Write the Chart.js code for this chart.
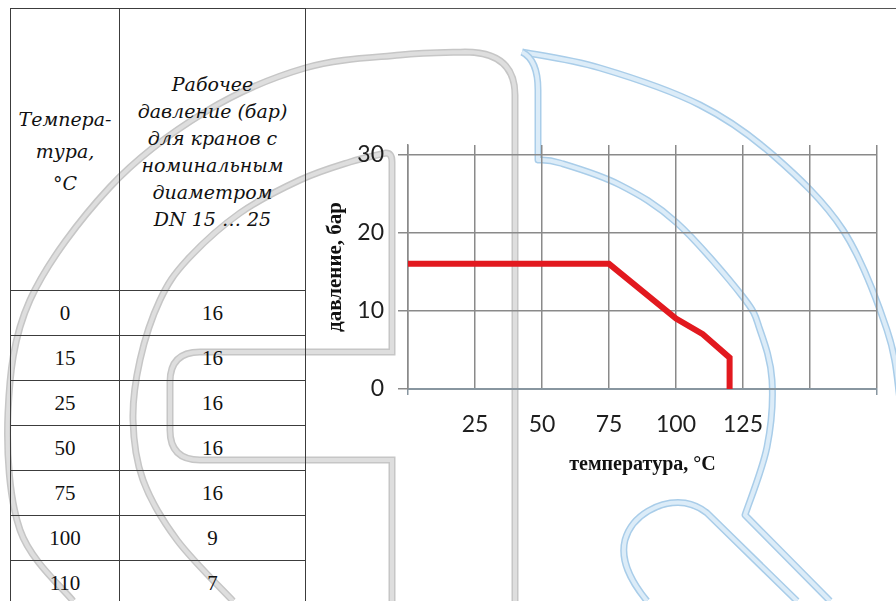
<!DOCTYPE html>
<html>
<head>
<meta charset="utf-8">
<script src="https://cdn.jsdelivr.net/npm/chart.js@4.4.1/dist/chart.umd.min.js"></script>
<style>
html, body { margin: 0; padding: 0; background: #fff; }
#wrap { position: relative; width: 896px; height: 601px; overflow: hidden; }
#mark { position: absolute; left: 0; top: 0; }
#topline { position: absolute; left: 10px; top: 8px; width: 900px; border-top: 1.5px solid #555; }
#tbl { position: absolute; left: 10px; top: 8px; border-collapse: collapse; table-layout: fixed; }
#tbl td { border: 1.5px solid #3c3c3c; text-align: center; padding: 0; color: #111; }
#tbl .head td { height: 277px; font-family: "DejaVu Serif", serif; font-style: italic; font-size: 19px; vertical-align: middle; }
#tbl .head td.c1 { line-height: 32px; padding-top: 3px; }
#tbl .head td.c2 { line-height: 27px; padding-top: 4px; }
#tbl .row td { height: 44px; font-family: "Liberation Serif", serif; font-size: 21px; }
#box { position: absolute; left: 306px; top: 10px; width: 590px; height: 591px; }
</style>
</head>
<body>
<div id="wrap">
  <svg id="mark" width="896" height="601"></svg>
  <div id="topline"></div>
  <table id="tbl">
    <colgroup><col style="width:109px"><col style="width:186px"></colgroup>
    <tr class="head">
      <td class="c1">Темпера-<br>тура,<br>°С</td>
      <td class="c2">Рабочее<br>давление (бар)<br>для кранов с<br>номинальным<br>диаметром<br>DN 15 … 25</td>
    </tr>
  </table>
  <div id="box"><canvas id="chart" width="590" height="591"></canvas></div>
</div>
<script>
var tempC = [0, 15, 25, 50, 75, 100, 110, 120, 120];
var pressureBar = [16, 16, 16, 16, 16, 9, 7, 4, 0];
var tableRows = 8;
var xTickLabels = [25, 50, 75, 100, 125];
var yTickValues = [0, 10, 20, 30];

// table rows
var tbl = document.getElementById('tbl');
for (var i = 0; i < tableRows; i++) {
  var tr = document.createElement('tr');
  tr.className = 'row';
  tr.innerHTML = '<td>' + tempC[i] + '</td><td>' + pressureBar[i] + '</td>';
  tbl.appendChild(tr);
}

// faint logo behind everything
function spline(pts) {
  var d = 'M' + pts[0][0] + ',' + pts[0][1];
  for (var i = 0; i < pts.length - 1; i++) {
    var p0 = pts[i - 1] || pts[i], p1 = pts[i], p2 = pts[i + 1], p3 = pts[i + 2] || p2;
    d += ' C' + (p1[0] + (p2[0] - p0[0]) / 6) + ',' + (p1[1] + (p2[1] - p0[1]) / 6) +
         ' ' + (p2[0] - (p3[0] - p1[0]) / 6) + ',' + (p2[1] - (p3[1] - p1[1]) / 6) +
         ' ' + p2[0] + ',' + p2[1];
  }
  return d;
}
var grayPaths = [
  spline([[73,601],[20,530],[8,413],[30,300],[110,187],[205,112],[305,68],[400,55],[465,52]]) + ' Q515,52 515,95 L515,601',
  spline([[233,601],[177,540],[143,480],[133,420],[140,360],[160,300],[187,260],[240,213],[300,180],[350,162],[386,153]]) +
    ' Q392,153 392,162 L392,352 L200,352 Q170,352 170,382 L170,430 Q170,460 200,460 L392,460 L392,601'
];
var bluePaths = [
  spline([[522,52],[600,68],[700,105],[773,155],[843,230],[887,330],[900,400],[905,460]]),
  'M522,52 Q538,60 538,90 L538,160 ' + spline([[538,160],[560,163],[620,185],[677,223],[743,297],[760,330],[772,380],[767,447],[745,515]]).slice(9) + ' L830,601',
  'M647,601 C630,580 620,560 625,540 C632,515 660,500 685,503 Q697,505 707,513 L797,601'
];
var svg = '';
grayPaths.forEach(function(d) {
  svg += '<path d="' + d + '" fill="none" stroke="#c6c6c6" stroke-width="7"/>';
  svg += '<path d="' + d + '" fill="none" stroke="#dedede" stroke-width="4"/>';
});
bluePaths.forEach(function(d) {
  svg += '<path d="' + d + '" fill="none" stroke="#a9cde9" stroke-width="7" stroke-linejoin="round"/>';
  svg += '<path d="' + d + '" fill="none" stroke="#dcecf8" stroke-width="4" stroke-linejoin="round"/>';
});
document.getElementById('mark').innerHTML = svg;

var points = tempC.map(function(t, i) { return { x: t, y: pressureBar[i] }; });
var gridColor = '#8a8a8a';

new Chart(document.getElementById('chart'), {
  type: 'line',
  data: {
    datasets: [{
      data: points,
      borderColor: '#e2191f',
      borderWidth: 6,
      pointRadius: 0,
      fill: false,
      tension: 0,
      borderJoinStyle: 'miter'
    }]
  },
  options: {
    responsive: false,
    animation: false,
    layout: { padding: { left: 0, right: 19, top: 135, bottom: 112 } },
    plugins: { legend: { display: false }, tooltip: { enabled: false } },
    scales: {
      x: {
        type: 'linear',
        min: 0,
        max: 175,
        afterFit: function(s) { s.height = 100; },
        ticks: {
          stepSize: 25,
          autoSkip: false,
          maxRotation: 0,
          padding: 16,
          color: '#1e1e1e',
          font: { family: 'Lato', size: 23 },
          callback: function(v) { return xTickLabels.indexOf(v) >= 0 ? v : ''; }
        },
        grid: {
          color: gridColor,
          lineWidth: 1.5,
          tickLength: 6,
          tickColor: function(c) { return (c.index === 0 || c.index === 7) ? '#8896a0' : 'rgba(0,0,0,0)'; }
        },
        border: { color: '#8896a0', width: 2 },
        title: {
          display: true,
          text: 'температура, °С',
          color: '#111',
          font: { family: 'Liberation Serif', weight: 'bold', size: 20 },
          padding: { top: 0, bottom: 12 }
        }
      },
      y: {
        min: 0,
        max: 31.2,
        afterFit: function(s) { s.width = 102; },
        afterBuildTicks: function(s) { s.ticks = yTickValues.map(function(v) { return { value: v }; }); },
        ticks: {
          padding: 14,
          color: '#1e1e1e',
          font: { family: 'Lato', size: 23 }
        },
        grid: { color: gridColor, lineWidth: 1.5, tickLength: 10 },
        border: { color: gridColor, width: 1.5 },
        title: {
          display: true,
          text: 'давление, бар',
          color: '#111',
          font: { family: 'Liberation Serif', weight: 'bold', size: 21 },
          padding: { top: 17, bottom: 0 }
        }
      }
    }
  }
});
</script>
</body>
</html>
